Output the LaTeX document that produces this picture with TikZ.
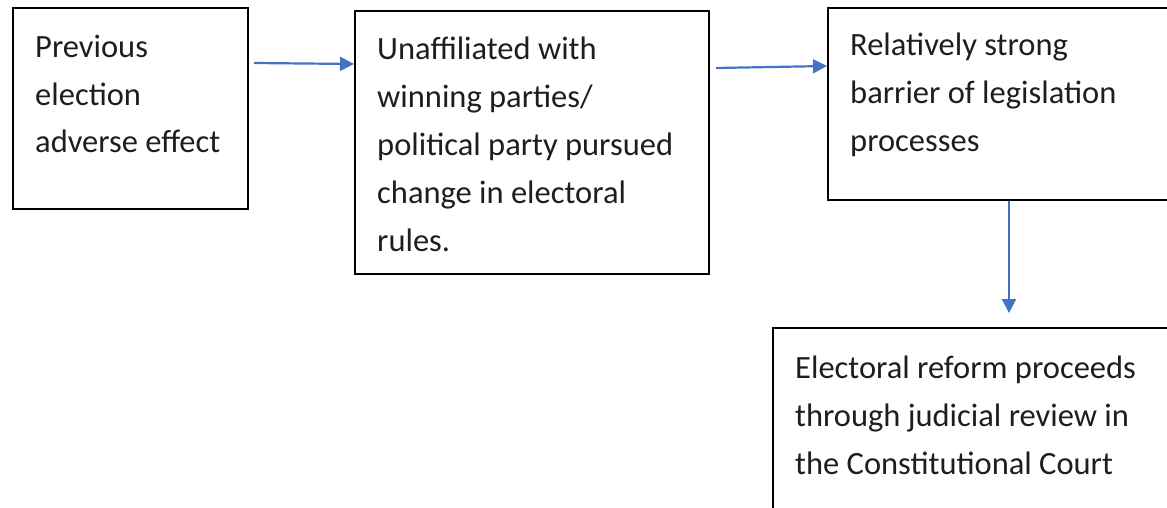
\documentclass[tikz,border=0pt]{standalone}
\usepackage{fontspec}
\setmainfont{Carlito}
\usetikzlibrary{arrows.meta}
\definecolor{arrblue}{HTML}{4472C4}
\definecolor{txtgray}{HTML}{1E1E1E}
\tikzset{
  box/.style={draw=black, line width=2pt, inner sep=0pt, anchor=north west},
  txt/.style={anchor=base west, inner sep=0pt, align=left, text=txtgray,
    font=\fontsize{32.5}{47.8}\selectfont},
  arr/.style={draw=arrblue, line width=2.2pt, -{Triangle[length=14pt,width=14pt]}}
}
\begin{document}
\begin{tikzpicture}[x=1pt,y=1pt]
\useasboundingbox (0,0) rectangle (1167,-508);
\clip (0,0) rectangle (1167,-508);
\node[box, minimum width=235pt, minimum height=201pt] (b1) at (12,-7) {};
\node[box, minimum width=354pt, minimum height=263pt] (b2) at (354,-10) {};
\node[box, minimum width=350pt, minimum height=192pt] (b3) at (827,-7) {};
\node[box, minimum width=405pt, minimum height=200pt] (b4) at (772,-327) {};
% base anchor of a multi-line node = baseline of its last line
\node[txt] (t1) at (35,-153) {Previous\\election\\adverse effect};
\node[txt] (t2) at (377,-251) {Unaffiliated with\\winning parties/\\political party pursued\\change in electoral\\rules.};
\node[txt] (t3) at (850,-151) {Relatively strong\\barrier of legislation\\processes};
\node[txt] (t4) at (795,-474) {Electoral reform proceeds\\through judicial review in\\the Constitutional Court};
\draw[arr] ([shift={(5,-56)}]b1.north east) -- ([yshift=-54]b2.north west);
\draw[arr] ([shift={(6,-58)}]b2.north east) -- ([yshift=-59]b3.north west);
\draw[arr] ([xshift=182]b3.south west) -- ([shift={(237,14)}]b4.north west);
\end{tikzpicture}
\end{document}
